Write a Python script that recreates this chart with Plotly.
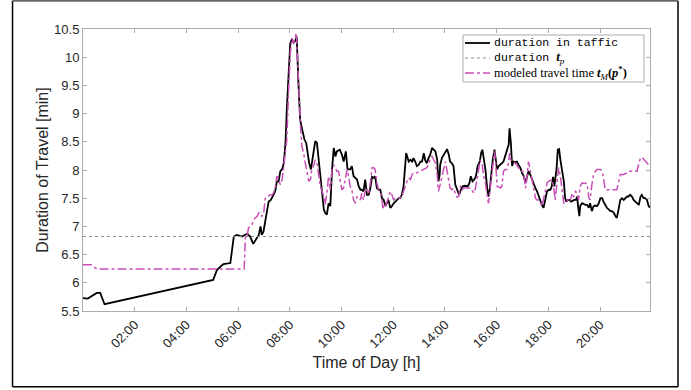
import plotly.graph_objects as go

DAY = "2000-01-01 "

# measured travel duration (black)
traffic_time = [
    "00:00", "00:11", "00:32", "00:40", "00:50", "05:02", "05:11", "05:26", "05:42", "05:50",
    "05:57", "06:09", "06:21", "06:28", "06:35", "06:42", "06:48", "06:52", "06:55", "06:59",
    "07:03", "07:07", "07:11", "07:16", "07:22", "07:26", "07:30", "07:34", "07:38", "07:42",
    "07:46", "07:50", "07:53", "07:57", "08:01", "08:05", "08:09", "08:13", "08:16", "08:20",
    "08:24", "08:28", "08:34", "08:38", "08:41", "08:45", "08:49", "08:54", "08:59", "09:03",
    "09:07", "09:11", "09:15", "09:19", "09:22", "09:26", "09:30", "09:34", "09:38", "09:42",
    "09:46", "09:49", "09:56", "10:01", "10:05", "10:10", "10:14", "10:20", "10:24", "10:28",
    "10:32", "10:36", "10:40", "10:44", "10:47", "10:51", "10:55", "10:59", "11:03", "11:07",
    "11:11", "11:15", "11:18", "11:22", "11:26", "11:30", "11:34", "11:38", "11:42", "11:46",
    "11:49", "11:53", "11:57", "12:01", "12:05", "12:09", "12:13", "12:16", "12:20", "12:24",
    "12:28", "12:30", "12:36", "12:40", "12:44", "12:47", "12:51", "12:55", "12:59", "13:03",
    "13:07", "13:11", "13:14", "13:18", "13:22", "13:26", "13:30", "13:34", "13:38", "13:42",
    "13:45", "13:48", "13:49", "13:53", "13:59", "14:05", "14:09", "14:12", "14:16", "14:20",
    "14:24", "14:29", "14:33", "14:37", "14:41", "14:47", "14:53", "14:57", "15:00", "15:04",
    "15:08", "15:12", "15:16", "15:21", "15:24", "15:27", "15:30", "15:34", "15:38", "15:41",
    "15:44", "15:47", "15:51", "15:55", "15:58", "16:01", "16:05", "16:09", "16:12", "16:16",
    "16:20", "16:24", "16:28", "16:30", "16:33", "16:36", "16:39", "16:43", "16:47", "16:51",
    "16:55", "16:59", "17:03", "17:07", "17:10", "17:14", "17:18", "17:22", "17:26", "17:30",
    "17:34", "17:38", "17:41", "17:45", "17:49", "17:53", "17:57", "18:01", "18:05", "18:08",
    "18:11", "18:14", "18:16", "18:19", "18:22", "18:25", "18:28", "18:32", "18:36", "18:39",
    "18:42", "18:45", "18:49", "18:53", "18:56", "19:00", "19:04", "19:07", "19:09", "19:12",
    "19:14", "19:18", "19:22", "19:26", "19:30", "19:34", "19:37", "19:41", "19:45", "19:49",
    "19:53", "19:57", "20:01", "20:05", "20:08", "20:12", "20:16", "20:20", "20:24", "20:28",
    "20:32", "20:36", "20:39", "20:43", "20:47", "20:51", "20:55", "20:59", "21:03", "21:06",
    "21:10", "21:14", "21:18", "21:22", "21:26", "21:30", "21:34", "21:37", "21:41", "21:45",
    "21:49", "21:53", "21:56",
]
traffic_min = [
    5.73, 5.72, 5.82, 5.82, 5.62, 6.05, 6.23, 6.33, 6.35, 6.82,
    6.85, 6.82, 6.87, 6.82, 6.69, 6.79, 6.85, 7.00, 6.85, 6.91,
    7.06, 7.27, 7.44, 7.47, 7.56, 7.62, 7.80, 7.80, 7.98, 8.01,
    8.12, 8.48, 9.07, 9.72, 10.25, 10.32, 10.26, 10.30, 10.36, 9.54,
    8.89, 8.74, 8.54, 8.48, 8.30, 8.12, 8.01, 8.24, 8.51, 8.48,
    8.18, 7.83, 7.47, 7.30, 7.24, 7.21, 7.41, 7.36, 8.01, 8.39,
    8.24, 8.33, 8.36, 8.27, 8.15, 8.33, 8.01, 8.01, 8.07, 7.89,
    7.86, 7.83, 7.71, 7.65, 7.65, 7.62, 7.83, 7.56, 7.56, 7.68,
    7.88, 7.86, 7.89, 7.68, 7.65, 7.65, 7.50, 7.47, 7.36, 7.41,
    7.47, 7.33, 7.36, 7.41, 7.44, 7.47, 7.50, 7.50, 7.56, 7.71,
    8.07, 8.30, 8.15, 8.18, 8.15, 8.21, 8.15, 8.07, 8.09, 8.15,
    8.15, 8.30, 8.18, 8.12, 8.21, 8.27, 8.39, 8.36, 8.33, 8.18,
    7.80, 7.92, 8.09, 8.21, 8.30, 8.37, 8.27, 8.15, 8.12, 8.07,
    7.74, 7.65, 7.56, 7.65, 7.71, 7.72, 7.71, 7.77, 7.89, 7.80,
    7.83, 7.89, 8.07, 8.15, 8.30, 8.36, 8.21, 8.01, 7.68, 7.53,
    7.65, 7.95, 8.18, 8.36, 8.21, 8.01, 8.07, 8.09, 8.12, 8.15,
    8.24, 8.33, 8.45, 8.74, 8.48, 8.07, 8.15, 8.14, 8.15, 8.09,
    8.04, 7.95, 7.89, 7.77, 7.89, 7.98, 7.92, 7.83, 7.77, 7.68,
    7.62, 7.53, 7.44, 7.38, 7.33, 7.47, 7.62, 7.65, 7.65, 7.71,
    7.88, 7.71, 7.83, 8.01, 8.36, 8.37, 8.18, 7.98, 7.80, 7.50,
    7.44, 7.47, 7.47, 7.44, 7.46, 7.47, 7.47, 7.53, 7.36, 7.18,
    7.36, 7.41, 7.40, 7.38, 7.38, 7.33, 7.41, 7.27, 7.36, 7.37,
    7.36, 7.41, 7.50, 7.50, 7.44, 7.37, 7.33, 7.30, 7.27, 7.27,
    7.24, 7.18, 7.15, 7.30, 7.47, 7.50, 7.47, 7.50, 7.53, 7.53,
    7.56, 7.53, 7.47, 7.44, 7.41, 7.38, 7.53, 7.56, 7.50, 7.50,
    7.47, 7.36, 7.33,
]

# modeled travel time t_M(p*) (magenta, dash-dot)
model_time = [
    "00:00", "00:19", "00:32", "06:14", "06:17", "06:21", "06:24", "06:28", "06:32", "06:36",
    "06:40", "06:44", "06:48", "06:52", "06:55", "06:59", "07:03", "07:07", "07:15", "07:19",
    "07:22", "07:26", "07:30", "07:34", "07:38", "07:42", "07:46", "07:50", "07:53", "07:57",
    "08:01", "08:05", "08:09", "08:13", "08:15", "08:18", "08:20", "08:24", "08:28", "08:32",
    "08:36", "08:40", "08:44", "08:48", "08:51", "08:55", "08:59", "09:03", "09:07", "09:11",
    "09:15", "09:19", "09:22", "09:26", "09:30", "09:34", "09:38", "09:42", "09:46", "09:49",
    "09:53", "09:57", "10:01", "10:05", "10:09", "10:13", "10:17", "10:20", "10:24", "10:28",
    "10:32", "10:36", "10:40", "10:44", "10:47", "10:51", "10:55", "10:59", "11:03", "11:07",
    "11:11", "11:15", "11:18", "11:22", "11:26", "11:30", "11:34", "11:36", "11:39", "11:42",
    "11:46", "11:49", "11:53", "11:57", "12:01", "12:05", "12:13", "12:20", "12:24", "12:28",
    "12:32", "12:36", "12:40", "12:44", "12:47", "12:55", "13:03", "13:11", "13:18", "13:22",
    "13:26", "13:30", "13:34", "13:38", "13:42", "13:45", "13:49", "13:53", "13:57", "14:01",
    "14:05", "14:09", "14:12", "14:16", "14:20", "14:24", "14:28", "14:32", "14:36", "14:40",
    "14:43", "14:51", "14:59", "15:03", "15:07", "15:11", "15:14", "15:18", "15:22", "15:26",
    "15:30", "15:34", "15:38", "15:41", "15:44", "15:47", "15:51", "15:55", "15:58", "16:01",
    "16:05", "16:09", "16:12", "16:16", "16:20", "16:24", "16:28", "16:30", "16:33", "16:36",
    "16:39", "16:43", "16:47", "16:51", "16:55", "16:59", "17:03", "17:07", "17:10", "17:14",
    "17:18", "17:22", "17:26", "17:30", "17:34", "17:38", "17:41", "17:45", "17:49", "17:53",
    "17:57", "18:01", "18:08", "18:12", "18:16", "18:20", "18:24", "18:28", "18:32", "18:36",
    "18:39", "18:43", "18:47", "18:51", "18:55", "18:59", "19:03", "19:07", "19:10", "19:14",
    "19:18", "19:26", "19:30", "19:34", "19:37", "19:41", "19:45", "19:49", "19:53", "20:01",
    "20:05", "20:08", "20:12", "20:39", "20:43", "20:47", "20:55", "21:03", "21:06", "21:26",
    "21:30", "21:34", "21:37", "21:41", "21:45", "21:49", "21:53", "21:56",
]
model_min = [
    6.32, 6.32, 6.245, 6.245, 6.82, 6.82, 6.97, 7.00, 7.03, 7.12,
    7.15, 7.18, 7.24, 7.24, 7.18, 7.21, 7.50, 7.53, 7.56, 7.56,
    7.59, 7.68, 7.89, 7.83, 7.74, 7.83, 8.07, 8.40, 8.54, 9.37,
    10.07, 10.34, 10.25, 10.37, 10.43, 9.96, 9.48, 8.89, 8.42, 8.30,
    8.12, 7.95, 7.80, 7.83, 8.01, 8.07, 8.18, 8.12, 7.89, 7.71,
    7.62, 7.53, 7.39, 7.59, 7.89, 7.65, 8.01, 8.09, 8.04, 7.98,
    7.98, 7.83, 7.65, 7.68, 7.83, 8.01, 7.86, 7.71, 7.65, 7.47,
    7.41, 7.53, 7.50, 7.47, 7.59, 7.47, 7.62, 7.65, 7.59, 7.77,
    8.04, 8.04, 8.01, 7.77, 7.65, 7.62, 7.47, 7.30, 7.39, 7.36,
    7.44, 7.53, 7.62, 7.56, 7.47, 7.50, 7.50, 7.53, 7.62, 7.74,
    7.80, 7.86, 7.83, 7.92, 7.95, 7.95, 7.98, 8.01, 8.04, 8.09,
    8.21, 8.24, 8.18, 8.12, 7.92, 7.62, 7.74, 7.89, 8.01, 8.15,
    7.98, 7.83, 7.68, 7.65, 7.68, 7.59, 7.52, 7.53, 7.72, 7.65,
    7.68, 7.68, 7.68, 7.64, 7.59, 7.68, 7.83, 8.01, 8.18, 8.12,
    7.89, 7.77, 7.59, 7.41, 7.59, 7.83, 8.07, 8.33, 8.12, 7.71,
    7.70, 7.68, 7.71, 7.98, 8.01, 8.01, 8.15, 8.30, 8.18, 8.15,
    8.15, 8.12, 8.09, 8.04, 7.98, 7.98, 7.95, 7.68, 7.83, 8.15,
    8.01, 7.83, 7.68, 7.50, 7.47, 7.47, 7.44, 7.36, 7.47, 7.62,
    7.77, 7.80, 7.83, 7.71, 7.47, 7.74, 8.04, 7.89, 7.65, 7.41,
    7.41, 7.44, 7.50, 7.47, 7.56, 7.53, 7.62, 7.59, 7.47, 7.71,
    7.77, 7.77, 7.76, 7.50, 7.47, 7.74, 7.92, 7.98, 8.01, 8.01,
    7.98, 7.86, 7.65, 7.65, 7.77, 7.92, 7.92, 7.95, 7.98, 7.98,
    8.12, 8.21, 8.23, 8.19, 8.15, 8.12, 8.09, 8.08,
]

# constant reference duration t_p
t_p = 6.82

x_ticks = ["02:00", "04:00", "06:00", "08:00", "10:00", "12:00", "14:00", "16:00", "18:00", "20:00"]
y_ticks = [5.5, 6, 6.5, 7, 7.5, 8, 8.5, 9, 9.5, 10, 10.5]
y_tick_labels = ["5.5", "6", "6.5", "7", "7.5", "8", "8.5", "9", "9.5", "10", "10.5"]

to_dt = lambda ts: [DAY + t for t in ts]

MONO = "'Liberation Mono','DejaVu Sans Mono',monospace"
SERIF = "'Liberation Serif','DejaVu Serif',serif"

# series styles, shared by the plot lines and the legend samples
styles = [
    dict(color="black", width=1.8),
    dict(color="#8c8c8c", width=1, dash="dot"),
    dict(color="#c94fb6", width=1.5, dash="dashdot"),
]
legend_labels = [
    "duration in taffic",
    "duration <span style=\"font-family:" + SERIF + ";font-size:13px\"><b><i>t</i></b><sub><i>p</i></sub></span>",
    "<span style=\"font-family:" + SERIF + ";font-size:12.5px\">modeled travel time "
    "<b><i>t</i></b><sub><i>M</i></sub><b>(<i>p</i></b><sup><b>*</b></sup><b>)</b></span>",
]

fig = go.Figure()
fig.add_trace(go.Scatter(x=to_dt(traffic_time), y=traffic_min, mode="lines",
                         line=styles[0], showlegend=False))
fig.add_trace(go.Scatter(x=to_dt([traffic_time[0], traffic_time[-1]]), y=[t_p, t_p],
                         mode="lines", line=styles[1], showlegend=False))
fig.add_trace(go.Scatter(x=to_dt(model_time), y=model_min, mode="lines",
                         line=styles[2], showlegend=False))

axis_common = dict(
    showline=True, linecolor="#ababab", linewidth=1, mirror="ticks",
    ticks="inside", ticklen=4, tickcolor="#ababab", tickwidth=1,
    showgrid=False, zeroline=False,
    tickfont=dict(family="Liberation Sans, Arial", size=13, color="#262626"),
)

fig.update_layout(
    width=691, height=390,
    margin=dict(l=83, r=41, t=29, b=79),
    paper_bgcolor="white", plot_bgcolor="white",
    font=dict(family="Liberation Sans, Arial", size=13, color="#262626"),
    xaxis=dict(
        **axis_common,
        type="date",
        range=[DAY + traffic_time[0], DAY + traffic_time[-1]],
        tickvals=to_dt(x_ticks), ticktext=x_ticks, tickangle=-45,
        title=dict(text="Time of Day [h]", font=dict(size=16, color="#262626"), standoff=6),
    ),
    yaxis=dict(
        **axis_common,
        range=[5.5, 10.5],
        tickvals=y_ticks, ticktext=y_tick_labels,
        title=dict(text="Duration of Travel [min]", font=dict(size=16, color="#262626"), standoff=1),
    ),
    showlegend=False,
)

# legend box in the upper-right corner of the axes
LX0, LX1, LY0, LY1 = 0.6702, 0.9894, 0.8121, 0.9787
fig.add_shape(type="rect", xref="paper", yref="paper", x0=LX0, x1=LX1, y0=LY0, y1=LY1,
              fillcolor="white", line=dict(color="#ababab", width=1), layer="above")
row_y = [0.9504, 0.8972, 0.8440]
for style, label, ry in zip(styles, legend_labels, row_y):
    fig.add_shape(type="line", xref="paper", yref="paper", x0=0.6737, x1=0.7178, y0=ry, y1=ry,
                  line=style, layer="above")
    fig.add_annotation(xref="paper", yref="paper", x=0.7213, y=ry, xanchor="left", yanchor="middle",
                       text=label, showarrow=False,
                       font=dict(family=MONO, size=11.5, color="black"))

# figure frame
frame = dict(type="line", xref="paper", yref="paper", layer="above")
fig.add_shape(**frame, x0=-0.1243, x1=-0.1243, y0=-0.2684, y1=1.1004, line=dict(color="black", width=1.5))
fig.add_shape(**frame, x0=1.0494, x1=1.0494, y0=-0.2684, y1=1.1004, line=dict(color="black", width=1.5))
fig.add_shape(**frame, x0=-0.1243, x1=1.0494, y0=-0.2684, y1=-0.2684, line=dict(color="black", width=1.5))
fig.add_shape(**frame, x0=-0.1243, x1=1.0494, y0=1.1004, y1=1.1004, line=dict(color="#666666", width=2))

fig.write_html("out.html")
